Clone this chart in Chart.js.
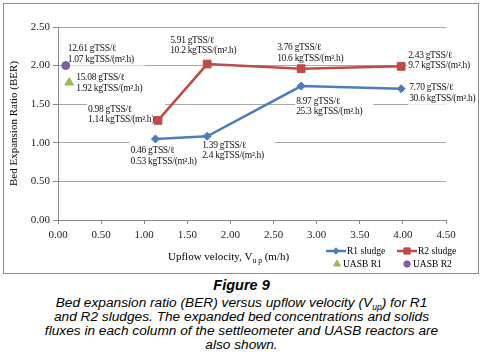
<!DOCTYPE html>
<html>
<head>
<meta charset="utf-8">
<script src="https://cdn.jsdelivr.net/npm/chart.js@4"></script>
<style>
  body { margin: 0; background: #fff; }
  #wrap { position: relative; width: 483px; height: 361px; overflow: hidden; }
  #chart { position: absolute; left: 0; top: 0; }
  .cap { position: absolute; left: 0; width: 483px; text-align: center; color: #000;
         font-family: "Liberation Sans", Arial, sans-serif; font-style: italic; font-size: 13.7px; line-height: 14px; }
  #capTitle { top: 278px; font-weight: bold; font-size: 14.5px; }
  #capText { top: 296px; }
  sub { font-size: 8.5px; vertical-align: -3px; line-height: 0; }
</style>
</head>
<body>
<div id="wrap">
  <canvas id="chart" width="483" height="276"></canvas>
  <div class="cap" id="capTitle">Figure 9</div>
  <div class="cap" id="capText">Bed expansion ratio (BER) versus upflow velocity (V<sub>up</sub>) for R1<br>and R2 sludges. The expanded bed concentrations and solids<br>fluxes in each column of the settleometer and UASB reactors are<br>also shown.</div>
</div>
<script>
// values
const r1Velocity = [1.13, 1.73, 2.82, 3.98];
const r1Ber = [1.05, 1.085, 1.735, 1.70];
const r2Velocity = [1.16, 1.73, 2.82, 3.98];
const r2Ber = [1.29, 2.02, 1.96, 1.99];
const uasbR1Velocity = [0.13];
const uasbR1Ber = [1.78];
const uasbR2Velocity = [0.09];
const uasbR2Ber = [2.00];

// point annotations (bed concentration / solids flux)
const r1Conc = ["0.46 gTSS/ℓ", "1.39 gTSS/ℓ", "8.97 gTSS/ℓ", "7.70 gTSS/ℓ"];
const r1Flux = ["0.53 kgTSS/(m².h)", "2.4 kgTSS/(m².h)", "25.3 kgTSS/(m².h)", "30.6 kgTSS/(m².h)"];
const r2Conc = ["0.98 gTSS/ℓ", "5.91 gTSS/ℓ", "3.76 gTSS/ℓ", "2.43 gTSS/ℓ"];
const r2Flux = ["1.14 kgTSS/(m².h)", "10.2 kgTSS/(m².h)", "10.6 kgTSS/(m².h)", "9.7 kgTSS/(m².h)"];
const uasbR1Conc = ["15.08 gTSS/ℓ"];
const uasbR1Flux = ["1.92 kgTSS/(m².h)"];
const uasbR2Conc = ["12.61 gTSS/ℓ"];
const uasbR2Flux = ["1.07 kgTSS/(m².h)"];

const xTicks = [0, 0.5, 1, 1.5, 2, 2.5, 3, 3.5, 4, 4.5];
const yTicks = [0, 0.5, 1, 1.5, 2, 2.5];

const SERIF = '"Liberation Serif", "Times New Roman", serif';
Chart.defaults.font.family = SERIF;
Chart.defaults.color = "#222";

function pts(xs, ys) {
    return xs.map((x, i) => ({ x: x, y: ys[i] }));
}

// label placement relative to each point (pixel offsets), per dataset
const labelOffsets = [
    [[-25, 12], [-5, 9], [-5, 15], [8, -1]],
    [[-70, -11], [-37, -24], [-24, -21], [7, -11]],
    [[7, -5]],
    [[2, -17]]
];
const labelText = [
    [r1Conc, r1Flux],
    [r2Conc, r2Flux],
    [uasbR1Conc, uasbR1Flux],
    [uasbR2Conc, uasbR2Flux]
];

const paperPlugin = {
    id: "paper",
    beforeDraw(chart) {
        const ctx = chart.ctx;
        ctx.save();
        ctx.fillStyle = "#fff";
        ctx.fillRect(0, 0, chart.width, chart.height);
        ctx.restore();
    },
    beforeDatasetsDraw(chart) {
        const ctx = chart.ctx;
        const xs = chart.scales.x, ys = chart.scales.y;
        ctx.save();
        ctx.font = "9.5px " + SERIF;
        ctx.letterSpacing = "-0.3px";
        ctx.textBaseline = "middle";
        ctx.textAlign = "left";
        chart.data.datasets.forEach((ds, d) => {
            ds.data.forEach((p, i) => {
                const px = xs.getPixelForValue(p.x) + labelOffsets[d][i][0];
                const py = ys.getPixelForValue(p.y) + labelOffsets[d][i][1];
                const a = labelText[d][0][i], b = labelText[d][1][i];
                const w = Math.max(ctx.measureText(a).width, ctx.measureText(b).width);
                ctx.fillStyle = "#fff";
                ctx.fillRect(px - 1, py - 9, w + 12, 26);
                ctx.fillStyle = "#111";
                ctx.fillText(a, px, py);
                ctx.fillText(b, px, py + 10.5);
            });
        });
        ctx.restore();
    },
    afterDraw(chart) {
        const ctx = chart.ctx;
        const area = chart.chartArea;
        const H = Chart.helpers;
        ctx.save();
        // outer frame
        ctx.strokeStyle = "#8c8c8c";
        ctx.lineWidth = 1;
        ctx.strokeRect(3.5, 3.5, 475, 270);
        ctx.fillStyle = "#000";
        // y title
        ctx.font = "11px " + SERIF;
        ctx.textAlign = "center";
        ctx.textBaseline = "middle";
        ctx.translate(14, (area.top + area.bottom) / 2);
        ctx.rotate(-Math.PI / 2);
        ctx.fillText("Bed Expansion Ratio (BER)", 0, 0);
        ctx.setTransform(1, 0, 0, 1, 0, 0);
        // x title with subscript
        ctx.textAlign = "left";
        ctx.textBaseline = "alphabetic";
        let tx = 168, ty = 260;
        ctx.font = "11px " + SERIF;
        ctx.fillText("Upflow velocity, V", tx, ty);
        tx += ctx.measureText("Upflow velocity, V").width;
        ctx.font = "7.5px " + SERIF;
        ctx.fillText("u p", tx, ty + 2.5);
        tx += ctx.measureText("u p").width;
        ctx.font = "11px " + SERIF;
        ctx.fillText(" (m/h)", tx, ty);
        // legend
        ctx.font = "9.5px " + SERIF;
        ctx.textBaseline = "middle";
        const items = [
            [0, 326, 251, true], [1, 397, 251, true],
            [2, 337, 264, false], [3, 407, 264, false]
        ];
        items.forEach(([d, x, y, line]) => {
            const ds = chart.data.datasets[d];
            ctx.strokeStyle = ds.borderColor;
            ctx.fillStyle = ds.backgroundColor;
            let cx = x, textX = x + 6;
            if (line) {
                ctx.lineWidth = 2.5;
                ctx.beginPath();
                ctx.moveTo(x, y);
                ctx.lineTo(x + 20, y);
                ctx.stroke();
                cx = x + 10;
                textX = x + 21;
            }
            ctx.lineWidth = 1;
            H.drawPoint(ctx, { pointStyle: ds.pointStyle, radius: ds.pointRadius * 0.8, rotation: 0, borderWidth: 1 }, cx, y);
            ctx.fillStyle = "#000";
            ctx.fillText(ds.label, textX, y);
        });
        ctx.restore();
    }
};

const ctx = document.getElementById("chart").getContext("2d");
const chart = new Chart(ctx, {
    type: "scatter",
    data: {
        datasets: [
            {
                label: "R1 sludge",
                data: pts(r1Velocity, r1Ber),
                showLine: true,
                borderColor: "#4A7EBB",
                backgroundColor: "#4A7EBB",
                borderWidth: 2.5,
                pointStyle: "rectRot",
                pointRadius: 4,
                pointBorderWidth: 1
            },
            {
                label: "R2 sludge",
                data: pts(r2Velocity, r2Ber),
                showLine: true,
                borderColor: "#BE4B48",
                backgroundColor: "#BE4B48",
                borderWidth: 2.5,
                pointStyle: "rect",
                pointRadius: 5.5,
                pointBorderWidth: 1
            },
            {
                label: "UASB R1",
                data: pts(uasbR1Velocity, uasbR1Ber),
                borderColor: "#98B954",
                backgroundColor: "#98B954",
                pointStyle: "triangle",
                pointRadius: 5,
                pointBorderWidth: 1
            },
            {
                label: "UASB R2",
                data: pts(uasbR2Velocity, uasbR2Ber),
                borderColor: "#7D60A0",
                backgroundColor: "#7D60A0",
                pointStyle: "circle",
                pointRadius: 4,
                pointBorderWidth: 1
            }
        ]
    },
    options: {
        responsive: false,
        animation: false,
        devicePixelRatio: 1,
        layout: { padding: { left: 0, top: 27, right: 37, bottom: 0 } },
        plugins: { legend: { display: false }, tooltip: { enabled: false } },
        scales: {
            x: {
                type: "linear",
                min: 0,
                max: 4.5,
                afterFit: (s) => { s.height = 56; },
                afterBuildTicks: (s) => { s.ticks = xTicks.map(v => ({ value: v })); },
                ticks: {
                    font: { size: 11 },
                    padding: 5,
                    maxRotation: 0,
                    autoSkip: false,
                    callback: (v) => Number(v).toFixed(2)
                },
                grid: { drawOnChartArea: false, tickLength: 4, tickColor: "#868686" },
                border: { color: "#868686" }
            },
            y: {
                type: "linear",
                min: 0,
                max: 2.5,
                afterFit: (s) => { s.width = 58; },
                afterBuildTicks: (s) => { s.ticks = yTicks.map(v => ({ value: v })); },
                ticks: {
                    font: { size: 11 },
                    padding: 3,
                    callback: (v) => Number(v).toFixed(2)
                },
                grid: { color: "#a6a6a6", tickLength: 5, tickColor: "#868686" },
                border: { color: "#868686" }
            }
        }
    },
    plugins: [paperPlugin]
});
</script>
</body>
</html>
